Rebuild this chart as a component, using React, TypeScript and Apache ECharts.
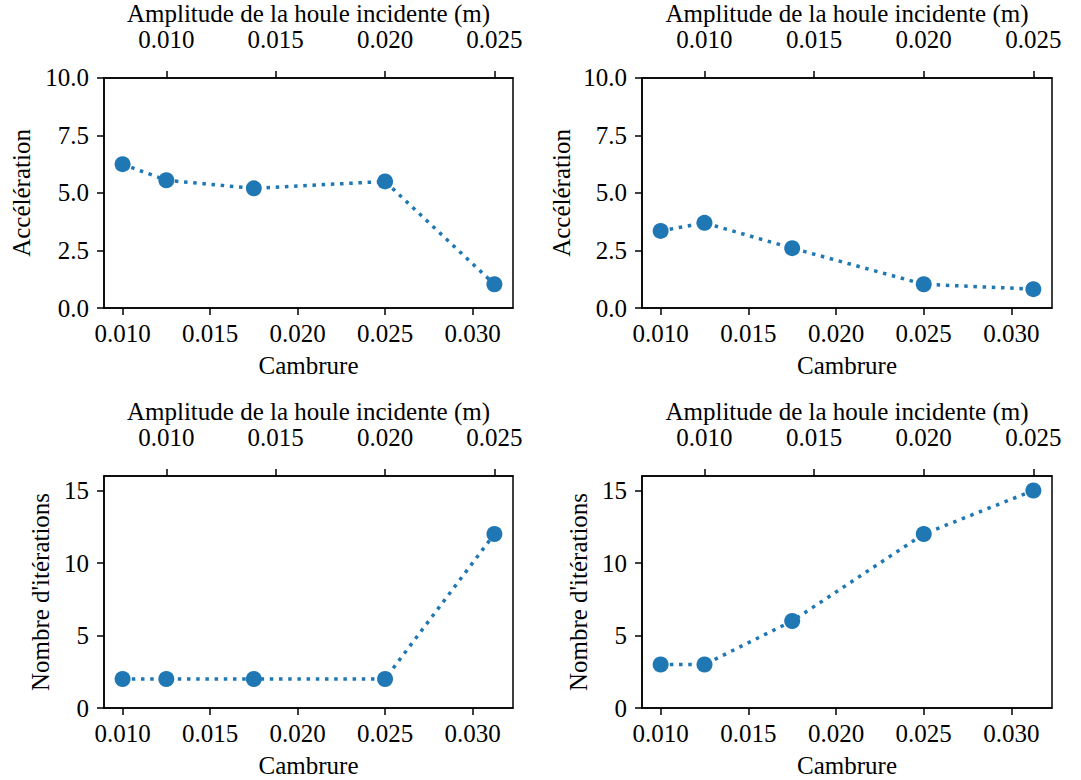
import React, { useEffect, useRef } from "react";
import * as echarts from "echarts";

// Data
const cambrure = [0.01, 0.0125, 0.0175, 0.025, 0.03125];
const accelA = [6.25, 5.55, 5.2, 5.5, 1.03];
const accelB = [3.35, 3.7, 2.6, 1.03, 0.82];
const iterA = [2, 2, 2, 2, 12];
const iterB = [3, 3, 6, 12, 15];

const cambrureTicks = [0.01, 0.015, 0.02, 0.025, 0.03];
const amplitudeTicks = [0.01, 0.015, 0.02, 0.025];
const accelTicks = [0, 2.5, 5, 7.5, 10];
const iterTicks = [0, 5, 10, 15];

const ratio = 0.8; // amplitude = 0.8 * cambrure
const xMin = 0.0089375;
const xMax = 0.0323125;

const FONT = "'Liberation Serif', 'Times New Roman', serif";
const FS = 25;
const BLUE = "#1f77b4";

export default function App() {
  const ref = useRef<HTMLDivElement>(null);
  useEffect(() => {
    if (!ref.current) return;
    const chart = echarts.init(ref.current, undefined, { renderer: "svg" });

    const grids = [
      { left: 104, top: 76, width: 409, height: 232 },
      { left: 642, top: 76, width: 410, height: 232 },
      { left: 104, top: 476, width: 409, height: 232 },
      { left: 642, top: 476, width: 410, height: 232 },
    ];
    const ySets = [
      { data: accelA, name: "Accélération", max: 10, ticks: accelTicks, dec: 1, gap: 70 },
      { data: accelB, name: "Accélération", max: 10, ticks: accelTicks, dec: 1, gap: 68 },
      { data: iterA, name: "Nombre d'itérations", max: 16, ticks: iterTicks, dec: 0, gap: 51 },
      { data: iterB, name: "Nombre d'itérations", max: 16, ticks: iterTicks, dec: 0, gap: 51 },
    ];

    const axisLine = { show: true, lineStyle: { color: "#000", width: 1.5 } };
    const axisTickBase = { show: true, inside: false, length: 7, lineStyle: { color: "#000", width: 1.5 } };
    const text = { color: "#000", fontFamily: FONT, fontSize: FS };

    const xAxis: any[] = [];
    const yAxis: any[] = [];
    const series: any[] = [];

    grids.forEach((g, i) => {
      xAxis.push({
        type: "value",
        gridIndex: i,
        position: "bottom",
        min: xMin,
        max: xMax,
        name: "Cambrure",
        nameLocation: "middle",
        nameGap: 45,
        nameTextStyle: text,
        axisLine,
        axisTick: { ...axisTickBase, customValues: cambrureTicks },
        axisLabel: {
          ...text,
          margin: 13,
          customValues: cambrureTicks,
          formatter: (v: number) => v.toFixed(3),
        },
        splitLine: { show: false },
      });
      xAxis.push({
        type: "value",
        gridIndex: i,
        position: "top",
        min: xMin * ratio,
        max: xMax * ratio,
        name: "Amplitude de la houle incidente (m)",
        nameLocation: "middle",
        nameGap: 47,
        nameTextStyle: text,
        axisLine,
        axisTick: { ...axisTickBase, customValues: amplitudeTicks },
        axisLabel: {
          ...text,
          margin: 26,
          customValues: amplitudeTicks,
          formatter: (v: number) => v.toFixed(3),
        },
        splitLine: { show: false },
      });
      const ys = ySets[i];
      yAxis.push({
        type: "value",
        gridIndex: i,
        min: 0,
        max: ys.max,
        name: ys.name,
        nameLocation: "middle",
        nameGap: ys.gap,
        nameRotate: 90,
        nameTextStyle: text,
        axisLine,
        axisTick: { ...axisTickBase, customValues: ys.ticks },
        axisLabel: {
          ...text,
          margin: 15,
          customValues: ys.ticks,
          formatter: (v: number) => v.toFixed(ys.dec),
        },
        splitLine: { show: false },
      });
      series.push({
        type: "line",
        xAxisIndex: i * 2,
        yAxisIndex: i,
        data: cambrure.map((c, k) => [c, ys.data[k]]),
        symbol: "circle",
        symbolSize: 16,
        itemStyle: { color: BLUE },
        lineStyle: { color: BLUE, width: 3.5, type: [3.5, 5.7] },
        z: 3,
      });
    });

    chart.setOption({
      animation: false,
      backgroundColor: "#fff",
      grid: grids.map((g) => ({
        ...g,
        show: true,
        borderColor: "#000",
        borderWidth: 1.5,
        backgroundColor: "transparent",
        containLabel: false,
      })),
      xAxis,
      yAxis,
      series,
    });

    return () => chart.dispose();
  }, []);

  return (
    <div
      ref={ref}
      style={{ position: "absolute", left: 0, top: 0, width: 1081, height: 780, background: "#fff" }}
    />
  );
}
